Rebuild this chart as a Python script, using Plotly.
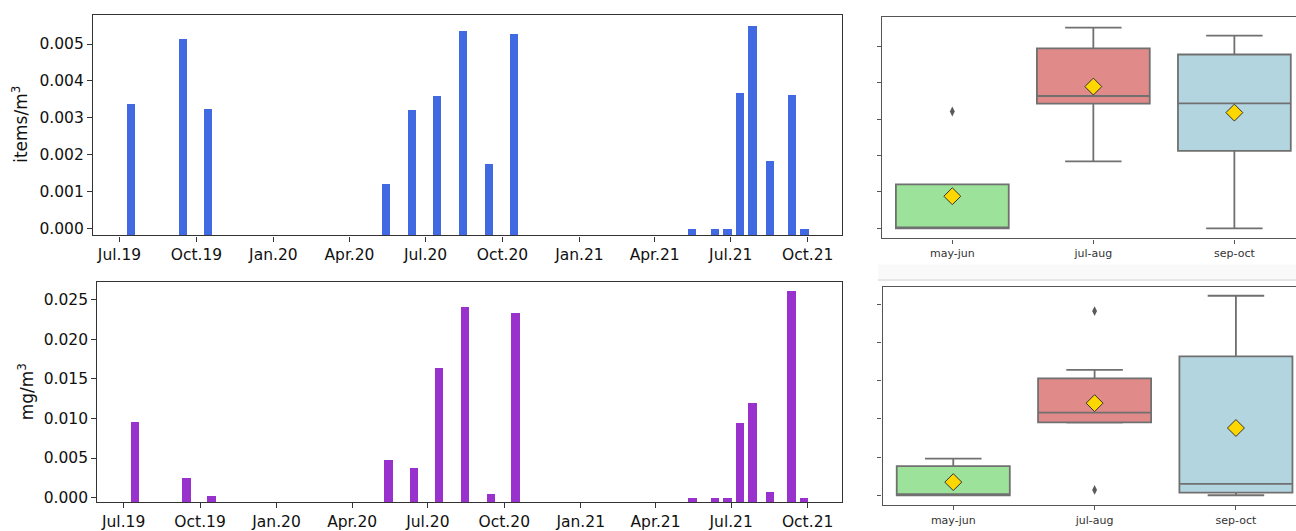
import numpy as np
import plotly.graph_objects as go

# ---------------- data ----------------
sample_dates = ["2019-07-15", "2019-09-15", "2019-10-15", "2020-05-15", "2020-06-15",
                "2020-07-15", "2020-08-15", "2020-09-15", "2020-10-15", "2021-05-16",
                "2021-06-12", "2021-06-27", "2021-07-12", "2021-07-27", "2021-08-17",
                "2021-09-12", "2021-09-27"]
items_m3 = [0.00337, 0.00516, 0.00324, 0.00121, 0.00321, 0.00360, 0.00537, 0.00176, 0.00529,
            0.0, 0.0, 0.0, 0.00367, 0.00551, 0.00184, 0.00362, 0.0]
mg_m3 = [0.0096, 0.0025, 0.0003, 0.0048, 0.0038, 0.0164, 0.0241, 0.0005, 0.0234,
         0.0, 0.0, 0.0, 0.0095, 0.0120, 0.0007, 0.0261, 0.0]
seasons = ["may-jun", "jul-aug", "sep-oct"]
season_of_month = {5: "may-jun", 6: "may-jun", 7: "jul-aug", 8: "jul-aug", 9: "sep-oct", 10: "sep-oct"}
season_colors = ["#9DE29B", "#E18A8A", "#B3D5E0"]

# ---------------- styling ----------------
W, H = 1296, 531
FONT = "DejaVu Sans"
BAR_BLUE = "#4169E1"
BAR_PURPLE = "#9932CC"
BOX_LINE = "#707070"
DATE_RANGE = ["2019-05-30 08:00", "2021-11-11"]
YR_TOP = [-0.0002, 0.0058]
YR_BOT = [-0.00055, 0.0273]
YR_BOX_TOP = [-0.000275, 0.0058]
YR_BOX_BOT = [-0.0013, 0.0273]
BAR_WIDTH_MS = 10 * 86400000


def px_x(a, b):
    return [a / W, b / W]


def px_y(top, bottom):
    return [1 - bottom / H, 1 - top / H]


fig = go.Figure()

# bar charts
for vals, color, xa, ya, yr in [(items_m3, BAR_BLUE, "x", "y", YR_TOP),
                                (mg_m3, BAR_PURPLE, "x2", "y2", YR_BOT)]:
    fig.add_trace(go.Bar(x=sample_dates, y=[v - yr[0] for v in vals], base=yr[0],
                         width=BAR_WIDTH_MS, marker=dict(color=color, line=dict(width=0)),
                         xaxis=xa, yaxis=ya, showlegend=False))

# box plots (stats computed from the same samples, grouped by season)
months = [int(d[5:7]) for d in sample_dates]
for vals, xa, ya in [(items_m3, "x3", "y3"), (mg_m3, "x4", "y4")]:
    for s, col in zip(seasons, season_colors):
        g = np.array([v for v, m in zip(vals, months) if season_of_month[m] == s])
        q1, med, q3 = np.percentile(g, [25, 50, 75])
        iqr = q3 - q1
        lo_f, hi_f = q1 - 1.5 * iqr, q3 + 1.5 * iqr
        inside = g[(g >= lo_f) & (g <= hi_f)]
        outl = g[(g < lo_f) | (g > hi_f)]
        fig.add_trace(go.Box(x=[s], q1=[q1], median=[med], q3=[q3],
                             lowerfence=[inside.min()], upperfence=[inside.max()],
                             width=0.8, whiskerwidth=0.5, fillcolor=col,
                             line=dict(color=BOX_LINE, width=1.8), boxpoints=False,
                             xaxis=xa, yaxis=ya, showlegend=False, hoverinfo="skip"))
        if len(outl):
            fig.add_trace(go.Scatter(x=[s] * len(outl), y=list(outl), mode="markers",
                                     marker=dict(symbol="diamond-tall", size=7, color="#5a5a5a"),
                                     xaxis=xa, yaxis=ya, showlegend=False))
        fig.add_trace(go.Scatter(x=[s], y=[g.mean()], mode="markers",
                                 marker=dict(symbol="diamond", size=13, color="#FFD700",
                                             line=dict(color="#333333", width=1)),
                                 xaxis=xa, yaxis=ya, showlegend=False))

tick_font = dict(family=FONT, size=15.5, color="#111111")
small_font = dict(family=FONT, size=11, color="#333333")

date_axis = dict(type="date", range=DATE_RANGE, tick0="2019-07-01", dtick="M3",
                 tickformat="%b.%y", ticks="outside", ticklen=5, tickwidth=1.2,
                 tickcolor="#333333", showline=True, linecolor="#333333", linewidth=1.3,
                 mirror=True, showgrid=False, zeroline=False, tickfont=tick_font)
val_axis = dict(ticks="outside", ticklen=5, tickwidth=1.2, tickcolor="#333333",
                showline=True, linecolor="#333333", linewidth=1.3, mirror=True,
                showgrid=False, zeroline=False, tickformat=".3f", tickfont=tick_font)
cat_axis = dict(type="category", categoryorder="array", categoryarray=seasons,
                ticks="outside", ticklen=4, tickwidth=1.2, tickcolor="#555555",
                showline=True, linecolor="#555555", linewidth=1.4, mirror=True,
                showgrid=False, zeroline=False, tickfont=small_font)
box_val_axis = dict(ticks="outside", ticklen=4, tickwidth=1.2, tickcolor="#555555",
                    showline=True, linecolor="#555555", linewidth=1.4, mirror=False,
                    showgrid=False, zeroline=False, showticklabels=False)

fig.update_layout(
    width=W, height=H, margin=dict(l=0, r=0, t=0, b=0),
    paper_bgcolor="white", plot_bgcolor="white", bargap=0,
    font=dict(family=FONT),
    xaxis=dict(date_axis, domain=px_x(93, 842), anchor="y"),
    yaxis=dict(val_axis, domain=px_y(14.7, 237.7), range=YR_TOP, dtick=0.001, anchor="x"),
    xaxis2=dict(date_axis, domain=px_x(97.3, 841.7), anchor="y2"),
    yaxis2=dict(val_axis, domain=px_y(284.3, 506.7), range=YR_BOT, dtick=0.005, anchor="x2"),
    xaxis3=dict(cat_axis, domain=px_x(881.8, 1296), range=[-0.5, 2.437], anchor="y3"),
    yaxis3=dict(box_val_axis, domain=px_y(17.3, 240.7), range=YR_BOX_TOP, dtick=0.001, anchor="x3"),
    xaxis4=dict(cat_axis, domain=px_x(882.6, 1296), range=[-0.5, 2.425], anchor="y4"),
    yaxis4=dict(box_val_axis, domain=px_y(289.3, 510), range=YR_BOX_BOT, dtick=0.005, anchor="x4"),
    shapes=[
        dict(type="rect", xref="paper", yref="paper", x0=878 / W, x1=1,
             y0=1 - 281.5 / H, y1=1 - 267 / H, fillcolor="#f9f9f9", line=dict(width=0), layer="below"),
        dict(type="line", xref="paper", yref="paper", x0=878 / W, x1=1,
             y0=1 - 282.7 / H, y1=1 - 282.7 / H, line=dict(color="#e6e6e6", width=2)),
    ],
    annotations=[
        dict(text="items/m<sup>3</sup>", x=20 / W, y=1 - 126 / H, xref="paper", yref="paper",
             textangle=-90, showarrow=False, xanchor="center", yanchor="middle",
             font=dict(family=FONT, size=17, color="#111111")),
        dict(text="mg/m<sup>3</sup>", x=26 / W, y=1 - 396 / H, xref="paper", yref="paper",
             textangle=-90, showarrow=False, xanchor="center", yanchor="middle",
             font=dict(family=FONT, size=17, color="#111111")),
    ],
)

fig.write_html("out.html", config={"displayModeBar": False},
               post_script="document.body.style.margin='0px';document.body.style.overflow='hidden';")
